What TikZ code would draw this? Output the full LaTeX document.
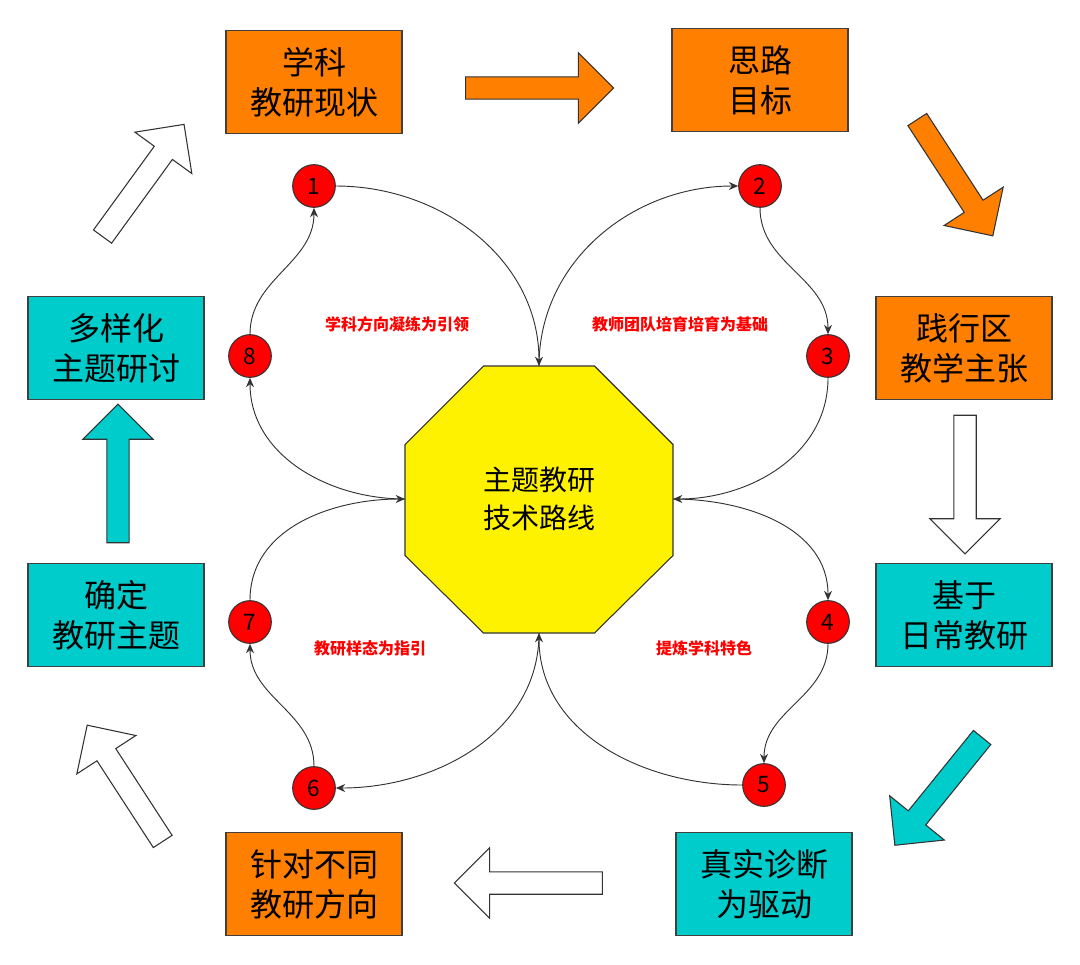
\documentclass[tikz,border=0pt]{standalone}
\usepackage{fontspec}
\setmainfont{Noto Sans CJK SC}
\usetikzlibrary{shapes.arrows,arrows.meta}
\definecolor{orng}{HTML}{FF7F00}
\definecolor{tl}{HTML}{00CCCC}
\begin{document}
\begin{tikzpicture}[x=0.75pt,y=0.75pt,
 box/.style={draw=black!75,line width=0.8pt,minimum width=132pt,minimum height=77pt,align=center,font=\fontsize{24}{30}\selectfont,inner sep=0pt},
 ob/.style={box,fill=orng},tb/.style={box,fill=tl},
 num/.style={circle,draw=black!80,line width=0.8pt,fill=red,minimum size=32pt,inner sep=0pt,font=\fontsize{17}{17}\selectfont},
 barr/.style={single arrow,draw=black!80,line width=0.8pt,inner ysep=8pt,inner xsep=0pt,single arrow head extend=18pt,minimum height=104pt},
 con/.style={-{Stealth[length=7pt,width=6pt]},line width=0.7pt,black!80},
 lab/.style={text=red,font=\bfseries\fontsize{12}{12}\selectfont}]
\useasboundingbox (0,0) rectangle (1080,-964);
\node[ob] (b1) at (314,-82) {学科\\教研现状};
\node[ob] (b2) at (760,-80) {思路\\目标};
\node[ob] (b3) at (964,-348) {践行区\\教学主张};
\node[tb] (b4) at (964,-615) {基于\\日常教研};
\node[tb] (b5) at (764,-884) {真实诊断\\为驱动};
\node[ob] (b6) at (314,-884) {针对不同\\教研方向};
\node[tb] (b7) at (116,-615) {确定\\教研主题};
\node[tb] (b8) at (116,-348) {多样化\\主题研讨};
% octagon
\draw[fill=yellow,draw=black!80,line width=0.8pt] (483.5,-366) -- (594.5,-366) -- (673,-444.5) -- (673,-555.5) -- (594.5,-633) -- (483.5,-633) -- (405,-555.5) -- (405,-444.5) -- cycle;
\node[align=center,font=\fontsize{21}{28}\selectfont] (oc) at (539,-499) {主题教研\\技术路线};
\coordinate (ot) at (539,-366);
\coordinate (or) at (673,-499);
\coordinate (ob) at (539,-633);
\coordinate (ol) at (405,-499);
% block arrows
\node[barr,fill=orng,minimum height=111pt] (a1) at (534,-88) {};
\node[barr,fill=orng,rotate=-57] (a2) at (952,-173) {};
\node[barr,fill=white,rotate=-90] (a3) at (965,-479) {};
\node[barr,fill=tl,rotate=-129] (a4) at (942,-787) {};
\node[barr,fill=white,rotate=180,minimum height=111pt] (a5) at (534,-883) {};
\node[barr,fill=white,rotate=123] (a6) at (128,-788) {};
\node[barr,fill=tl,rotate=90] (a7) at (118,-479) {};
\node[barr,fill=white,rotate=54] (a8) at (140,-185) {};
% circles
\node[num] (c1) at (314,-186) {1};
\node[num] (c2) at (760,-186) {2};
\node[num] (c3) at (828,-356) {3};
\node[num] (c4) at (828,-622) {4};
\node[num] (c5) at (764,-785) {5};
\node[num] (c6) at (314,-788) {6};
\node[num] (c7) at (250,-622) {7};
\node[num] (c8) at (250,-356) {8};
% connectors
\draw[con] (c1.east) to[out=0,in=90] (ot);
\draw[con] (ot) to[out=90,in=180] (c2.west);
\draw[con] (c2.south) to[out=-90,in=90] (c3.north);
\draw[con] (c3.south) to[out=-90,in=0] (or);
\draw[con] (or) to[out=0,in=90] (c4.north);
\draw[con] (c4.south) to[out=-90,in=90] (c5.north);
\draw[con] (c5.west) to[out=180,in=-90] (ob);
\draw[con] (ob) to[out=-90,in=0] (c6.east);
\draw[con] (c6.north) to[out=90,in=-90] (c7.south);
\draw[con] (c7.north) to[out=90,in=180] (ol);
\draw[con] (ol) to[out=180,in=-90] (c8.south);
\draw[con] (c8.north) to[out=90,in=-90] (c1.south);
% labels
\node[lab] (l1) at (397,-324) {学科方向凝练为引领};
\node[lab] (l2) at (680,-324) {教师团队培育培育为基础};
\node[lab] (l3) at (370,-648) {教研样态为指引};
\node[lab] (l4) at (704,-648) {提炼学科特色};
\end{tikzpicture}
\end{document}
